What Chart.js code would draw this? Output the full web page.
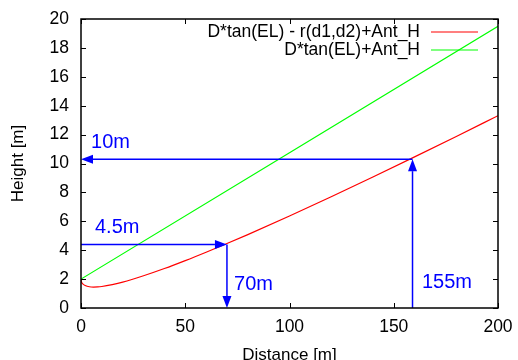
<!DOCTYPE html>
<html>
<head>
<meta charset="utf-8">
<script src="https://cdn.jsdelivr.net/npm/chart.js@4/dist/chart.umd.min.js"></script>
<style>
    html, body { margin: 0; padding: 0; background: #ffffff; }
    #wrap { width: 518px; height: 360px; }
</style>
</head>
<body>
<div id="wrap"><canvas id="myChart"></canvas></div>
<script>
// curve values
const redLabel = "D*tan(EL) - r(d1,d2)+Ant_H";
const greenLabel = "D*tan(EL)+Ant_H";
const redDist = [0, 0.2, 0.5, 1, 2, 4, 6, 8, 10, 15, 20, 30, 40, 50, 60, 70, 80, 100, 120, 140, 160, 180, 200];
const redHeight = [2.0, 1.82, 1.73, 1.65, 1.56, 1.47, 1.45, 1.46, 1.49, 1.62, 1.79, 2.23, 2.73, 3.28, 3.86, 4.46, 5.08, 6.37, 7.70, 9.07, 10.46, 11.87, 13.31];
const greenDist = [0, 100, 200];
const greenHeight = [2.0, 10.75, 19.5];

const xTicks = [0, 50, 100, 150, 200];
const yTicks = [0, 2, 4, 6, 8, 10, 12, 14, 16, 18, 20];

// blue arrows (data units) and their notes
const arrowStartX = [0, 70, 159, 159];
const arrowStartY = [4.4, 4.4, 0, 10.3];
const arrowEndX = [70, 70, 159, 0];
const arrowEndY = [4.4, 0, 10.3, 10.3];
const noteText = ["4.5m", "70m", "155m", "10m"];
const noteX = [6.7, 73.4, 163.5, 4.8];
const noteY = [5.54, 1.66, 1.80, 11.42];

const FONT = "'Liberation Sans', Arial, sans-serif";

function toPoints(xs, ys) {
    return xs.map((x, i) => ({ x: x, y: ys[i] }));
}

const extras = {
    id: "extras",
    afterDatasetsDraw(chart) {
        const ctx = chart.ctx;
        const area = chart.chartArea;
        const xs = chart.scales.x;
        const ys = chart.scales.y;

        ctx.save();

        // arrows
        ctx.strokeStyle = "#0000ff";
        ctx.fillStyle = "#0000ff";
        ctx.lineWidth = 1.5;
        for (let i = 0; i < arrowStartX.length; i++) {
            const x0 = xs.getPixelForValue(arrowStartX[i]);
            const y0 = ys.getPixelForValue(arrowStartY[i]);
            const x1 = xs.getPixelForValue(arrowEndX[i]);
            const y1 = ys.getPixelForValue(arrowEndY[i]);
            const ang = Math.atan2(y1 - y0, x1 - x0);
            const len = 12, half = 4.5;
            const bx = x1 - len * Math.cos(ang);
            const by = y1 - len * Math.sin(ang);
            ctx.beginPath();
            ctx.moveTo(x0, y0);
            ctx.lineTo(bx, by);
            ctx.stroke();
            ctx.beginPath();
            ctx.moveTo(x1, y1);
            ctx.lineTo(bx + half * Math.sin(ang), by - half * Math.cos(ang));
            ctx.lineTo(bx - half * Math.sin(ang), by + half * Math.cos(ang));
            ctx.closePath();
            ctx.fill();
        }

        ctx.font = "20px " + FONT;
        ctx.textAlign = "left";
        ctx.textBaseline = "middle";
        noteText.forEach((t, i) => {
            ctx.fillText(t, xs.getPixelForValue(noteX[i]), ys.getPixelForValue(noteY[i]));
        });

        // frame + inward ticks on all sides
        ctx.strokeStyle = "#000000";
        ctx.lineWidth = 1.5;
        ctx.strokeRect(area.left, area.top, area.right - area.left, area.bottom - area.top);
        ctx.lineWidth = 1;
        const tl = 5;
        ctx.beginPath();
        xTicks.forEach(v => {
            const px = Math.round(xs.getPixelForValue(v)) + 0.5;
            ctx.moveTo(px, area.bottom);
            ctx.lineTo(px, area.bottom - tl);
            ctx.moveTo(px, area.top);
            ctx.lineTo(px, area.top + tl);
        });
        yTicks.forEach(v => {
            const py = Math.round(ys.getPixelForValue(v)) + 0.5;
            ctx.moveTo(area.left, py);
            ctx.lineTo(area.left + tl, py);
            ctx.moveTo(area.right, py);
            ctx.lineTo(area.right - tl, py);
        });
        ctx.stroke();

        // key, gnuplot style: text right aligned, sample line after it
        ctx.font = "17.5px " + FONT;
        ctx.textAlign = "right";
        ctx.textBaseline = "middle";
        chart.data.datasets.forEach((ds, i) => {
            const y = 32 + i * 18;
            ctx.fillStyle = "#000000";
            ctx.fillText(ds.label, 420, y);
            ctx.strokeStyle = ds.borderColor;
            ctx.lineWidth = 1.2;
            ctx.beginPath();
            ctx.moveTo(431, y);
            ctx.lineTo(478, y);
            ctx.stroke();
        });

        ctx.restore();
    }
};

const ctx = document.getElementById("myChart").getContext("2d");
const myChart = new Chart(ctx, {
    type: "scatter",
    data: {
        datasets: [
            {
                label: redLabel,
                data: toPoints(redDist, redHeight),
                showLine: true,
                borderColor: "#ff0000",
                borderWidth: 1.2,
                pointRadius: 0,
                cubicInterpolationMode: "monotone"
            },
            {
                label: greenLabel,
                data: toPoints(greenDist, greenHeight),
                showLine: true,
                borderColor: "#00ff00",
                borderWidth: 1.2,
                pointRadius: 0
            }
        ]
    },
    options: {
        responsive: true,
        maintainAspectRatio: false,
        animation: false,
        events: [],
        layout: { padding: { top: 19, right: 20, left: 0, bottom: 0 } },
        plugins: {
            legend: { display: false },
            tooltip: { enabled: false }
        },
        scales: {
            x: {
                type: "linear",
                min: 0,
                max: 200,
                afterBuildTicks: s => { s.ticks = xTicks.map(v => ({ value: v })); },
                afterFit: s => {
                    s.height = 52;
                    s.paddingLeft = 0;
                    s.paddingRight = 0;
                },
                grid: { display: false, drawTicks: false },
                border: { display: false },
                ticks: {
                    color: "#000000",
                    padding: 9,
                    maxRotation: 0,
                    font: { family: FONT, size: 17.5 }
                },
                title: {
                    display: true,
                    text: "Distance [m]",
                    color: "#000000",
                    padding: { top: 0, bottom: 0 },
                    font: { family: FONT, size: 17, lineHeight: 0.6 }
                }
            },
            y: {
                type: "linear",
                min: 0,
                max: 20,
                afterBuildTicks: s => { s.ticks = yTicks.map(v => ({ value: v })); },
                afterFit: s => {
                    s.width = 81;
                    s.paddingTop = 0;
                    s.paddingBottom = 0;
                },
                grid: { display: false, drawTicks: false },
                border: { display: false },
                ticks: {
                    color: "#000000",
                    padding: 12,
                    font: { family: FONT, size: 17.5 }
                },
                title: {
                    display: true,
                    text: "Height [m]",
                    color: "#000000",
                    padding: { top: 11, bottom: 0 },
                    font: { family: FONT, size: 17, lineHeight: 0.85 }
                }
            }
        }
    },
    plugins: [extras]
});
</script>
</body>
</html>
